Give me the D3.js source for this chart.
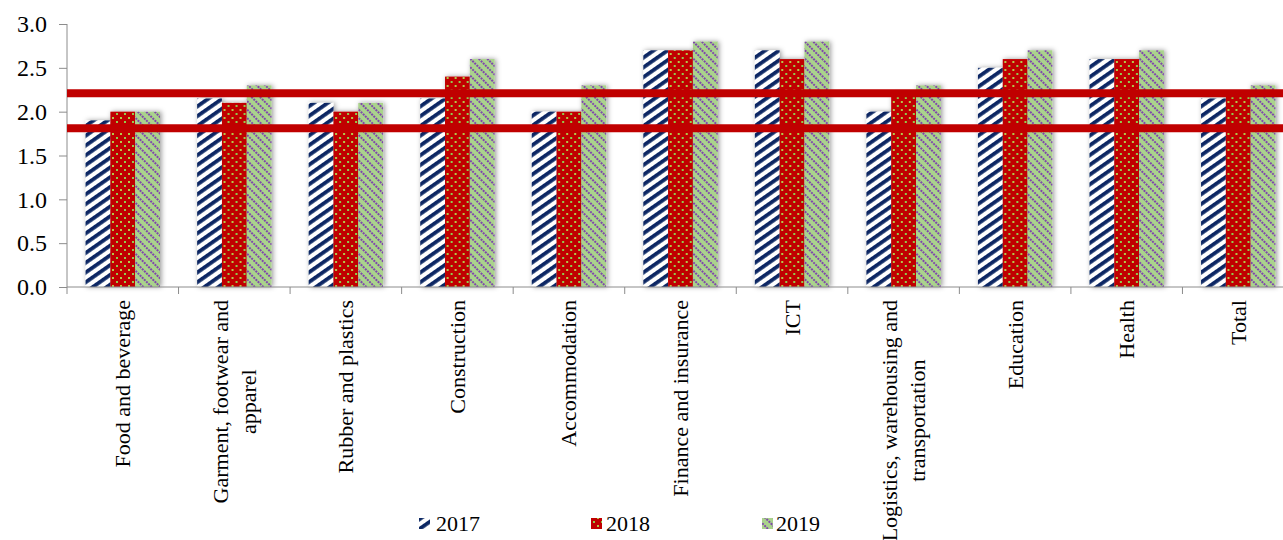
<!DOCTYPE html>
<html>
<head>
<meta charset="utf-8">
<script src="https://cdn.jsdelivr.net/npm/d3@7"></script>
<style>
  html, body { margin: 0; padding: 0; background: #fff; }
  svg { display: block; }
  text { font-family: "Liberation Serif", "Times New Roman", serif; fill: #000; }
</style>
</head>
<body>
<svg id="chart" width="1283" height="540"></svg>
<script>
const categories = [
  ["Food and beverage"],
  ["Garment, footwear and", "apparel"],
  ["Rubber and plastics"],
  ["Construction"],
  ["Accommodation"],
  ["Finance and insurance"],
  ["ICT"],
  ["Logistics, warehousing and", "transportation"],
  ["Education"],
  ["Health"],
  ["Total"]
];
const years = ["2017", "2018", "2019"];
const values2017 = [1.9, 2.15, 2.1, 2.15, 2.0, 2.7, 2.7, 2.0, 2.5, 2.6, 2.15];
const values2018 = [2.0, 2.1, 2.0, 2.4, 2.0, 2.7, 2.6, 2.2, 2.6, 2.6, 2.2];
const values2019 = [2.0, 2.3, 2.1, 2.6, 2.3, 2.8, 2.8, 2.3, 2.7, 2.7, 2.3];
const yTicks = [0, 0.5, 1.0, 1.5, 2.0, 2.5, 3.0];
const refLines = [2.2, 1.8];

const seriesValues = [values2017, values2018, values2019];
const catKeys = categories.map(c => c.join(" "));
const FONT = '"Liberation Serif", "Times New Roman", serif';

const svg = d3.select("#chart");
const defs = svg.append("defs");

// Patterns
const p17 = defs.append("pattern").attr("id", "pat2017").attr("patternUnits", "userSpaceOnUse")
  .attr("width", 8).attr("height", 8).attr("patternTransform", "rotate(55)");
p17.append("rect").attr("width", 8).attr("height", 8).attr("fill", "#ffffff");
p17.append("rect").attr("x", 0).attr("width", 3.8).attr("height", 8).attr("fill", "#0b2763");

const p18 = defs.append("pattern").attr("id", "pat2018").attr("patternUnits", "userSpaceOnUse")
  .attr("width", 8).attr("height", 8);
p18.append("rect").attr("width", 8).attr("height", 8).attr("fill", "#c00000");
p18.append("rect").attr("x", 1).attr("y", 1).attr("width", 2).attr("height", 2).attr("fill", "#92cc4e");
p18.append("rect").attr("x", 5).attr("y", 5).attr("width", 2).attr("height", 2).attr("fill", "#b5c84a");

const p19 = defs.append("pattern").attr("id", "pat2019").attr("patternUnits", "userSpaceOnUse")
  .attr("width", 6).attr("height", 6).attr("patternTransform", "rotate(-45)");
p19.append("rect").attr("width", 6).attr("height", 6).attr("fill", "#aad38c");
p19.append("line").attr("x1", 1).attr("x2", 1).attr("y1", 0).attr("y2", 6)
  .attr("stroke", "#7a38b0").attr("stroke-width", 1.8).attr("stroke-dasharray", "2,1");

const fills = { "2017": "url(#pat2017)", "2018": "url(#pat2018)", "2019": "url(#pat2019)" };

const shadow = defs.append("filter").attr("id", "shadow")
  .attr("x", "-20%").attr("y", "-10%").attr("width", "140%").attr("height", "120%");
shadow.append("feDropShadow").attr("dx", 1.5).attr("dy", 0).attr("stdDeviation", 2.5)
  .attr("flood-color", "#000").attr("flood-opacity", 0.4);

// Scales
const x = d3.scaleBand().domain(catKeys).range([67, 1294]).paddingInner(0).paddingOuter(0);
const xSub = d3.scaleBand().domain(years).range([0, x.bandwidth()]).paddingInner(0).paddingOuter(0.75);
const y = d3.scaleLinear().domain([0, 3]).range([287, 24]);

// Bars
const groups = svg.append("g").selectAll("g.grp")
  .data(catKeys)
  .join("g")
  .attr("class", "grp")
  .attr("transform", d => `translate(${x(d)},0)`)
  .attr("filter", "url(#shadow)");

groups.selectAll("rect")
  .data((d, i) => years.map((yr, j) => ({ yr, v: seriesValues[j][i] })))
  .join("rect")
  .attr("x", d => xSub(d.yr))
  .attr("width", xSub.bandwidth())
  .attr("y", d => y(d.v))
  .attr("height", d => y(0) - y(d.v))
  .attr("fill", d => fills[d.yr]);

// Y axis
const yAxis = svg.append("g")
  .attr("transform", "translate(67,0)")
  .call(d3.axisLeft(y).tickValues(yTicks).tickFormat(d3.format(".1f")).tickSize(8).tickPadding(12));
yAxis.attr("font-family", FONT).attr("font-size", 24);
yAxis.select(".domain").attr("stroke", "#8c8c8c").attr("d", `M0,${y(0)}V${y(3)}`);
yAxis.selectAll(".tick line").attr("stroke", "#8c8c8c");
yAxis.selectAll(".tick text").style("font-size", "24px").attr("fill", "#000")
  .style("font-family", FONT);

// X axis
const xAxisG = svg.append("g").attr("transform", `translate(0,${y(0)})`);
xAxisG.append("line").attr("x1", 67).attr("x2", 1283).attr("y1", 0).attr("y2", 0)
  .attr("stroke", "#8c8c8c");
xAxisG.selectAll("line.tk")
  .data(catKeys)
  .join("line")
  .attr("class", "tk")
  .attr("x1", d => x(d)).attr("x2", d => x(d))
  .attr("y1", 0).attr("y2", 7)
  .attr("stroke", "#8c8c8c");

// X labels (rotated, multi-line centered)
const lineH = 28;
categories.forEach((lines, i) => {
  const cx = x(catKeys[i]) + x.bandwidth() / 2;
  const g = svg.append("g").attr("transform", `translate(${cx},300) rotate(-90)`);
  const texts = lines.map((ln, k) => g.append("text")
    .attr("text-anchor", "middle")
    .attr("dominant-baseline", "central")
    .style("font-size", "22px")
    .style("font-family", FONT)
    .attr("y", (k - (lines.length - 1) / 2) * lineH)
    .text(ln));
  const maxLen = d3.max(texts, t => t.node().getComputedTextLength());
  texts.forEach(t => t.attr("x", -maxLen / 2));
});

// Reference lines
svg.append("g").selectAll("line.ref")
  .data(refLines)
  .join("line")
  .attr("class", "ref")
  .attr("x1", 67).attr("x2", 1283)
  .attr("y1", d => y(d) - 1).attr("y2", d => y(d) - 1)
  .attr("stroke", "#c00000").attr("stroke-width", 8);

// Legend
const legendPos = [{ sx: 419, tx: 436 }, { sx: 591, tx: 606 }, { sx: 762, tx: 776 }];
const leg = svg.append("g");
years.forEach((yr, j) => {
  leg.append("rect").attr("x", legendPos[j].sx).attr("y", 518).attr("width", 11).attr("height", 11)
    .attr("fill", fills[yr]);
  leg.append("text").attr("x", legendPos[j].tx).attr("y", 531)
    .style("font-size", "22px").style("font-family", FONT).text(yr);
});
</script>
</body>
</html>
